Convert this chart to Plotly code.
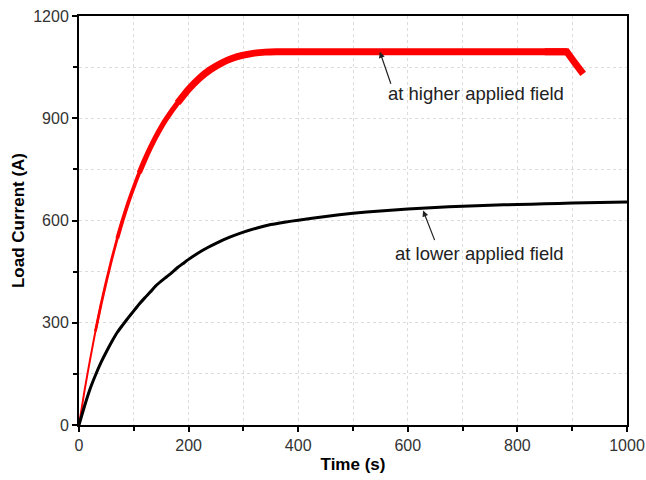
import plotly.graph_objects as go

# ---- data ----
t_high = [0, 10, 20, 30, 40, 50, 60, 70, 80, 90, 100, 110, 120, 130, 140, 150, 160,
          180, 200, 220, 240, 260, 280, 300, 320, 340, 360, 400, 450, 500, 550, 600,
          650, 700, 750, 800, 850, 890, 905, 920]
i_high = [0, 100, 190, 275, 352, 422, 488, 548, 603, 653, 698, 740, 778, 813, 845, 874, 900,
          945, 985, 1018, 1043, 1062, 1076, 1085, 1091, 1094, 1095, 1095, 1095, 1095, 1095, 1095,
          1095, 1095, 1095, 1095, 1095, 1095, 1062, 1030]

t_low = [0, 10, 20, 30, 40, 50, 60, 70, 80, 90, 100, 110, 120, 130, 140, 150, 160, 170, 180,
         190, 200, 225, 250, 275, 300, 325, 350, 375, 400, 450, 500, 550, 600, 650, 700, 750,
         800, 850, 900, 950, 1000]
i_low = [0, 55, 105, 146, 183, 215, 245, 272, 294, 315, 335, 355, 373, 390, 408, 422, 435, 448, 462,
         474, 486, 512, 533, 551, 566, 578, 588, 595, 601, 612, 621, 628, 634, 638, 642, 645,
         647, 649, 651, 653, 654]

x_ticks = [0, 200, 400, 600, 800, 1000]
y_ticks = [0, 300, 600, 900, 1200]

label_high = "at higher applied field"
label_low = "at lower applied field"

FONT = "Liberation Sans, Arial, sans-serif"

fig = go.Figure()

# red curve drawn in overlapping segments with growing thickness (noise band widens)
n = len(t_high)
segs = [(0, 5, 2.0, "spline"), (3, 9, 2.8, "spline"), (7, 13, 3.8, "spline"),
        (11, 19, 5.2, "spline"), (17, n - 2, 7.0, "spline"), (n - 4, n, 7.0, "linear")]
for a, b, w, shp in segs:
    fig.add_trace(go.Scatter(x=t_high[a:b], y=i_high[a:b], mode="lines",
                             line=dict(color="#ff0000", width=w, shape=shp,
                                       **({"smoothing": 0.6} if shp == "spline" else {})),
                             showlegend=False, hoverinfo="skip"))

fig.add_trace(go.Scatter(x=t_low, y=i_low, mode="lines",
                         line=dict(color="#000000", width=3, shape="spline", smoothing=0.6),
                         showlegend=False, hoverinfo="skip"))

axis_common = dict(
    showline=True, linecolor="black", linewidth=2, mirror=True,
    ticks="outside", ticklen=5, tickwidth=1.5, tickcolor="black",
    showgrid=True, gridcolor="#dcdcdc", griddash="dot", gridwidth=1,
    zeroline=False, automargin=False, ticklabeloverflow="allow",
    tickfont=dict(family=FONT, size=16, color="#333333"),
)
minor_common = dict(ticks="outside", ticklen=4, tickwidth=1.5, tickcolor="black",
                    showgrid=True, gridcolor="#dcdcdc", griddash="dot", gridwidth=1)

fig.update_xaxes(
    range=[0, 1000], tickvals=x_ticks,
    minor=dict(dtick=100, **minor_common),
    title=dict(text="<b>Time (s)</b>", font=dict(family=FONT, size=17, color="black"),
               standoff=5),
    **axis_common,
)
fig.update_yaxes(
    range=[0, 1200], tickvals=y_ticks,
    minor=dict(dtick=150, **minor_common),
    title=dict(text="<b>Load Current (A)</b>", font=dict(family=FONT, size=17, color="black"),
               standoff=4),
    **axis_common,
)

# annotations: arrows and labels
fig.add_annotation(x=549, y=1095, ax=570, ay=997, axref="x", ayref="y", text="",
                   showarrow=True, arrowhead=2, arrowsize=1, arrowwidth=1.2, arrowcolor="#222")
fig.add_annotation(x=725, y=974, text=label_high, showarrow=False,
                   font=dict(family=FONT, size=18.5, color="#222"))
fig.add_annotation(x=628, y=629, ax=650, ay=538, axref="x", ayref="y", text="",
                   showarrow=True, arrowhead=2, arrowsize=1, arrowwidth=1.2, arrowcolor="#222")
fig.add_annotation(x=731, y=502, text=label_low, showarrow=False,
                   font=dict(family=FONT, size=18.5, color="#222"))

fig.update_layout(
    width=646, height=480,
    margin=dict(l=79, r=19, t=16, b=55, autoexpand=False),
    paper_bgcolor="white", plot_bgcolor="white",
    font=dict(family=FONT),
)

# remove the default page margin so the figure fills the window exactly
fig.write_html(
    "out.html",
    config={"displayModeBar": False},
    post_script="document.body.style.margin='0';document.body.style.overflow='hidden';",
)
